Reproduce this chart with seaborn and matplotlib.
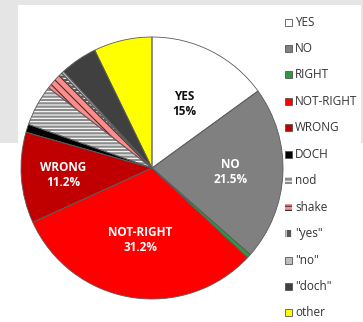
import matplotlib
matplotlib.use("Agg")
import matplotlib.pyplot as plt
from matplotlib.patches import Rectangle
import numpy as np
import seaborn as sns

sns.set_theme(style="white")
plt.rcParams["font.family"] = ["Open Sans", "DejaVu Sans"]
plt.rcParams["hatch.linewidth"] = 0.8

# Response categories and their shares (percent)
categories = ["YES", "NO", "RIGHT", "NOT-RIGHT", "WRONG", "DOCH",
              "nod", "shake", '"yes"', '"no"', '"doch"', "other"]
shares = [15.0, 21.5, 0.5, 31.2, 11.2, 1.0, 5.1, 2.0, 0.4, 0.3, 4.6, 7.2]
shown_labels = {"YES": "YES\n15%", "NO": "NO\n21.5%",
                "NOT-RIGHT": "NOT-RIGHT\n31.2%", "WRONG": "WRONG\n11.2%"}

fills = ["#ffffff", "#808080", "#2e9a3c", "#ff0000", "#c00000", "#000000",
         "#8c8c8c", "#ff8c8c", "#555555", "#bdbdbd", "#404040", "#ffff00"]
hatches = [None, None, None, None, None, None,
           "-----", "\\\\\\\\", "-----", None, None, None]
legend_hatches = [None, None, None, None, None, None,
                  "----", "----", "|||", None, None, None]
hatch_cols = [None, None, None, None, None, None,
              "#ffffff", "#333333", "#ffffff", None, None, None]
label_cols = {"YES": "#111111", "NO": "white", "NOT-RIGHT": "white", "WRONG": "white"}

W, H = 363, 322
fig = plt.figure(figsize=(W / 100, H / 100), dpi=100)
fig.patch.set_facecolor("white")

# light grey frame behind the upper part of the canvas
fig.add_artist(Rectangle((0, (H - 143) / H), 1, 143 / H, transform=fig.transFigure,
                         facecolor="#e5e5e5", edgecolor="none", zorder=0))
fig.add_artist(Rectangle((18 / W, (H - 143) / H), (361 - 18) / W, (143 - 5) / H,
                         transform=fig.transFigure, facecolor="white",
                         edgecolor="none", zorder=0))

cx, cy, r = 152, 168, 131
ax = fig.add_axes([(cx - r) / W, (H - cy - r) / H, 2 * r / W, 2 * r / H])
ax.set_facecolor("none")

wedges, _ = ax.pie(shares, colors=fills, startangle=90, counterclock=False,
                   radius=1, wedgeprops=dict(linewidth=0))
for w, h, hc in zip(wedges, hatches, hatch_cols):
    if h:
        w.set_hatch(h)
        w.set_edgecolor(hc)
        w.set_linewidth(0)

# slice outlines
ax.pie(shares, colors=["none"] * len(shares), startangle=90, counterclock=False,
       radius=1, wedgeprops=dict(linewidth=0.6, edgecolor="#5a5a5a", fill=False))
ax.set_xlim(-1, 1)
ax.set_ylim(-1, 1)
ax.axis("off")

# in-slice labels, placed along each slice's mid-angle
cum = np.cumsum([0] + shares)
total = cum[-1]
label_radius = {"YES": 0.55, "NO": 0.6, "NOT-RIGHT": 0.56, "WRONG": 0.68}
for i, cat in enumerate(categories):
    if cat in shown_labels:
        mid = 90 - 360 * (cum[i] + shares[i] / 2) / total
        rr = label_radius[cat]
        ax.text(rr * np.cos(np.radians(mid)), rr * np.sin(np.radians(mid)),
                shown_labels[cat], ha="center", va="center", fontsize=8.5,
                fontweight="bold", color=label_cols[cat], linespacing=1.2)

# legend column
y0, dy = 22, 26.45
for i, cat in enumerate(categories):
    yc = y0 + i * dy
    hatch = legend_hatches[i]
    box = Rectangle((285 / W, (H - yc - 3.5) / H), 7 / W, 7 / H,
                    transform=fig.transFigure, facecolor=fills[i],
                    edgecolor=hatch_cols[i] if hatch else "#555555",
                    linewidth=0 if hatch else 0.6, hatch=hatch, zorder=3)
    fig.add_artist(box)
    fig.text(295 / W, (H - yc) / H, cat, ha="left", va="center",
             fontsize=8.5, color="#333333")

fig.savefig("out.png", dpi=100, facecolor=fig.get_facecolor())
